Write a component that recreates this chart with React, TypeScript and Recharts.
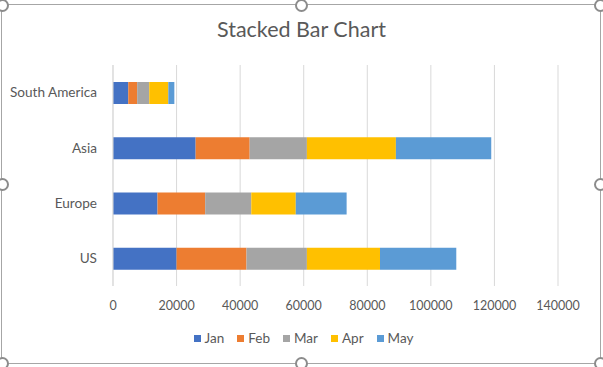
import { Bar, BarChart, CartesianGrid, XAxis, YAxis } from "recharts"

const REGIONS = ["South America", "Asia", "Europe", "US"]
const MONTHS = ["Jan", "Feb", "Mar", "Apr", "May"]

const JAN = [4800, 26000, 14000, 20000]
const FEB = [2800, 17000, 15000, 22000]
const MAR = [3800, 18000, 14500, 19000]
const APR = [6000, 28000, 14000, 23000]
const MAY = [1900, 30000, 16000, 24000]

const X_TICKS = [0, 20000, 40000, 60000, 80000, 100000, 120000, 140000]

const COLORS = ["#4472C4", "#ED7D31", "#A5A5A5", "#FFC000", "#5B9BD5"]

const SERIES = [JAN, FEB, MAR, APR, MAY]

const data = REGIONS.map((region, i) => {
  const row: Record<string, string | number> = { region }
  MONTHS.forEach((m, j) => {
    row[m] = SERIES[j][i]
  })
  return row
})

const FONT = "Lato, 'Open Sans', sans-serif"
const TEXT = "#595959"

const handles = [
  [2, 5], [301, 5], [600, 5],
  [2, 184], [600, 184],
  [2, 363], [301, 363], [600, 363],
]

export default function App() {
  return (
    <div
      style={{
        position: "absolute",
        left: 0,
        top: 0,
        width: 603,
        height: 367,
        background: "#fff",
        fontFamily: FONT,
        overflow: "hidden",
      }}
    >
      <div
        style={{
          position: "absolute",
          left: 1,
          top: 4,
          width: 598,
          height: 358,
          border: "1px solid #a6a6a6",
        }}
      />
      <div
        style={{
          position: "absolute",
          top: 16,
          width: 603,
          textAlign: "center",
          fontSize: 21.5,
          color: TEXT,
        }}
      >
        Stacked Bar Chart
      </div>
      <div style={{ position: "absolute", left: 0, top: 0 }}>
        <BarChart
          width={603}
          height={367}
          data={data}
          layout="vertical"
          margin={{ top: 65, right: 45, bottom: 61, left: 0 }}
          barSize={22}
        >
          <CartesianGrid horizontal={false} stroke="#d9d9d9" />
          <XAxis
            type="number"
            domain={[0, 140000]}
            ticks={X_TICKS}
            axisLine={false}
            tickLine={false}
            height={20}
            tickMargin={9}
            tick={{ fill: TEXT, fontSize: 12.5, fontFamily: FONT }}
            interval={0}
          />
          <YAxis
            type="category"
            dataKey="region"
            width={113}
            axisLine={{ stroke: "#d9d9d9" }}
            tickLine={false}
            tickMargin={10}
            tick={{ fill: TEXT, fontSize: 13.6, fontFamily: FONT }}
          />
          {MONTHS.map((m, i) => (
            <Bar
              key={m}
              dataKey={m}
              stackId="a"
              fill={COLORS[i]}
              isAnimationActive={false}
            />
          ))}
        </BarChart>
      </div>
      <div
        style={{
          position: "absolute",
          top: 330,
          left: 2,
          width: 603,
          display: "flex",
          justifyContent: "center",
          gap: 13,
          fontSize: 13.5,
          color: TEXT,
        }}
      >
        {MONTHS.map((m, i) => (
          <div key={m} style={{ display: "flex", alignItems: "center", gap: 4 }}>
            <span
              style={{
                width: 7,
                height: 7,
                background: COLORS[i],
                display: "inline-block",
              }}
            />
            <span>{m}</span>
          </div>
        ))}
      </div>
      {handles.map(([x, y], i) => (
        <div
          key={i}
          style={{
            position: "absolute",
            left: x - 6,
            top: y - 6,
            width: 9,
            height: 9,
            borderRadius: "50%",
            border: "2px solid #8c8c8c",
            background: "#fff",
          }}
        />
      ))}
    </div>
  )
}
